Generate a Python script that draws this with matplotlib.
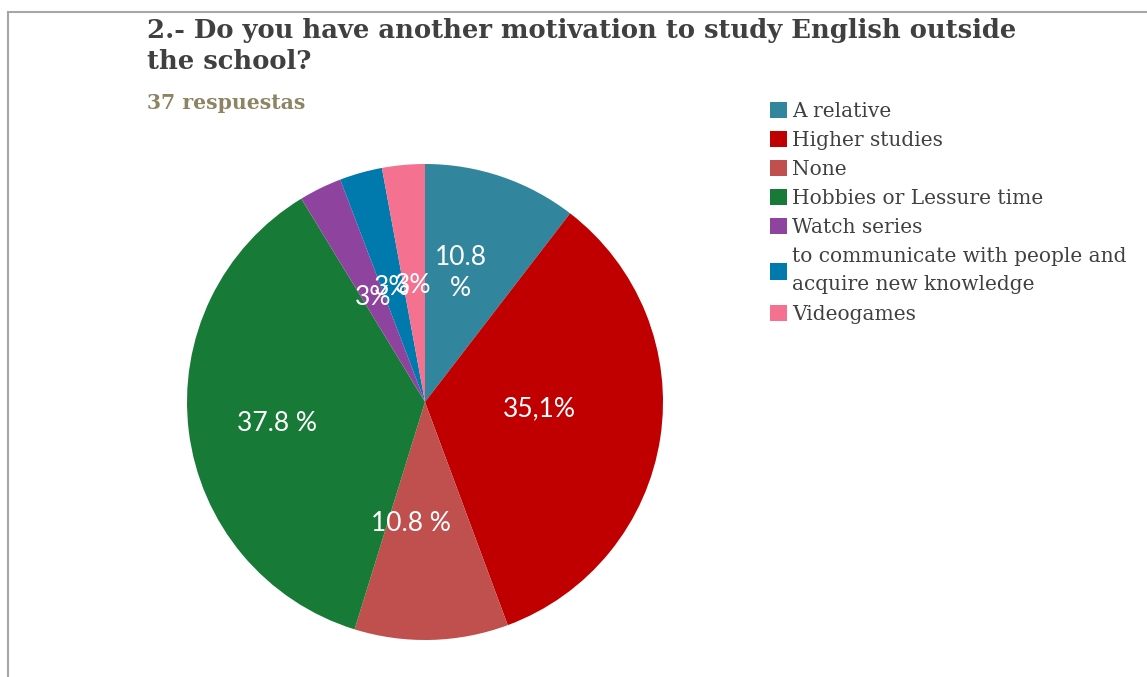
import matplotlib
matplotlib.use('Agg')
import matplotlib.pyplot as plt
from matplotlib.lines import Line2D

W, H = 1147, 677

categories = ['A relative', 'Higher studies', 'None', 'Hobbies or Lessure time',
              'Watch series', 'to communicate with people and\nacquire new knowledge',
              'Videogames']
values = [10.8, 35.1, 10.8, 37.8, 3, 3, 3]
labels = ['10.8\n%', '35,1%', '10.8 %', '37.8 %', '3%', '3%', '3%']
colors = ['#31859C', '#C00000', '#C0504D', '#177A36', '#8E449E', '#0079AC', '#F4718F']

# label spots inside the pie, in units of the radius
label_pos = [(0.15, 0.54), (0.48, -0.03), (-0.06, -0.51), (-0.62, -0.09),
             (-0.22, 0.44), (-0.14, 0.48), (-0.05, 0.49)]

fig = plt.figure(figsize=(W / 100, H / 100), dpi=100)

# pie axes: centre (425, 402) px, radius 238 px
cx, cy, r = 425, 402, 238
ax = fig.add_axes([(cx - r) / W, (H - cy - r) / H, 2 * r / W, 2 * r / H])
wedges, _ = ax.pie(values, colors=colors, startangle=90, counterclock=False,
                   radius=1, wedgeprops=dict(linewidth=0))
ax.set_xlim(-1, 1)
ax.set_ylim(-1, 1)
ax.set_aspect('equal')
ax.axis('off')

for txt, (x, y) in zip(labels, label_pos):
    ax.text(x, y, txt, ha='center', va='center', color='white',
            fontsize=19, family=['Lato', 'DejaVu Sans'], linespacing=1.3)

# titles
fig.text(147 / W, 1 - 18 / H,
         '2.- Do you have another motivation to study English outside\nthe school?',
         ha='left', va='top', fontsize=18.6, fontweight='bold', color='#404040',
         family='DejaVu Serif', linespacing=1.3)
fig.text(147 / W, 1 - 93 / H, '37 respuestas', ha='left', va='top',
         fontsize=14.7, fontweight='bold', color='#8C8462', family='DejaVu Serif')

leg = fig.legend(wedges, categories, loc='upper left',
                 bbox_to_anchor=(752 / W, 1 - 84 / H), frameon=False,
                 handlelength=0.85, handleheight=0.85, handletextpad=0.25,
                 labelspacing=0.5,
                 prop={'family': 'DejaVu Serif', 'size': 14.5})
for t in leg.get_texts():
    t.set_color('#404040')
    t.set_linespacing(1.6)

# thin grey frame on the top and left
fig.add_artist(Line2D([8 / W, 1], [1 - 12 / H] * 2, color='#A6A6A6', lw=1.5))
fig.add_artist(Line2D([8 / W] * 2, [0, 1 - 12 / H], color='#A6A6A6', lw=1.5))

fig.savefig('out.png', dpi=100)
